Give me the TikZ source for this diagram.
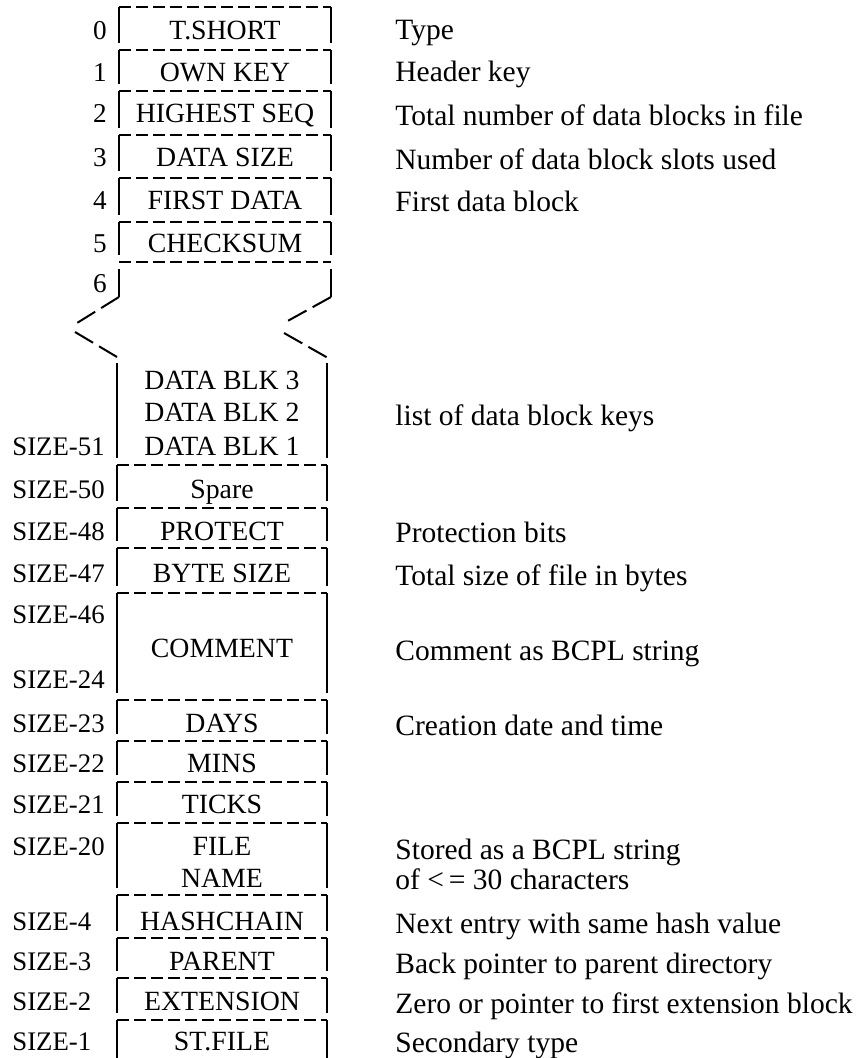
\documentclass[tikz,border=0pt]{standalone}
\usepackage{fontspec}
\setmainfont{Liberation Serif}
\begin{document}
\begin{tikzpicture}[x=0.5pt,y=-0.5pt,
  every node/.style={inner sep=0pt},
  div/.style={line width=1pt, dash pattern=on 6pt off 2.5pt},
  side/.style={line width=1pt},
  zig/.style={line width=1pt, dash pattern=on 10.5pt off 3.5pt},
  cell/.style={anchor=base, font=\fontsize{13.9}{16}\selectfont},
  num/.style={anchor=base east, font=\fontsize{13.6}{16}\selectfont},
  lab/.style={anchor=base west, font=\fontsize{13.4}{16}\selectfont},
  desc/.style={anchor=base west, font=\fontsize{14.75}{16}\selectfont}]
\useasboundingbox (0,0) rectangle (858,1058);

% upper part of the block
\foreach \y in {7,50,91,135,178,222,262}
  \draw[div] (119,\y) -- (331,\y);
\foreach \a/\b in {7/50,50/91,91/135,135/178,178/222,222/262}{
  \draw[side] (119,\a) -- (119,\b-7);
  \draw[side] (331,\a) -- (331,\b-7);
}
\draw[side] (119,269) -- (119,297);
\draw[side] (331,269) -- (331,297);
% break
\draw[zig] (119,297) -- (77,323);
\draw[zig] (75,332) -- (117,357);
\draw[zig] (331,297) -- (284,323);
\draw[zig] (284,333) -- (328,358);

% lower part of the block
\foreach \y in {465,508,548,593,700,741,782,823,895,938,978,1020}
  \draw[div] (117,\y) -- (327,\y);
\foreach \a/\b in {363/465,465/508,508/548,548/593,593/700,700/741,741/782,782/823,823/895,895/938,938/978,978/1020}{
  \draw[side] (117,\a) -- (117,\b-7);
  \draw[side] (327,\a) -- (327,\b-7);
}
\draw[side] (117,1020) -- (117,1058);
\draw[side] (327,1020) -- (327,1058);

% cell contents
\node[cell] (c0) at (225,40) {T.SHORT};
\node[cell] (c1) at (225,82) {OWN KEY};
\node[cell] (c2) at (225,123) {HIGHEST SEQ};
\node[cell] (c3) at (225,167) {DATA SIZE};
\node[cell] (c4) at (225,210) {FIRST DATA};
\node[cell] (c5) at (225,253) {CHECKSUM};
\node[cell] (b3) at (222,390) {DATA BLK 3};
\node[cell] (b2) at (222,422) {DATA BLK 2};
\node[cell] (b1) at (222,455) {DATA BLK 1};
\node[cell] (sp) at (222,498) {Spare};
\node[cell] (pr) at (222,540) {PROTECT};
\node[cell] (bs) at (222,582) {BYTE SIZE};
\node[cell] (cm) at (222,657) {COMMENT};
\node[cell] (dy) at (222,732) {DAYS};
\node[cell] (mn) at (222,772) {MINS};
\node[cell] (tk) at (222,813) {TICKS};
\node[cell] (f1) at (222,855) {FILE};
\node[cell] (f2) at (222,887) {NAME};
\node[cell] (hc) at (222,930) {HASHCHAIN};
\node[cell] (pa) at (222,970) {PARENT};
\node[cell] (ex) at (222,1010) {EXTENSION};
\node[cell] (st) at (222,1050) {ST.FILE};

% offsets
\node[num] (n0) at (107,40) {0};
\node[num] (n1) at (107,82) {1};
\node[num] (n2) at (107,123) {2};
\node[num] (n3) at (107,167) {3};
\node[num] (n4) at (107,210) {4};
\node[num] (n5) at (107,253) {5};
\node[num] (n6) at (107,293) {6};
\node[lab] (s51) at (12,455) {SIZE-51};
\node[lab] (s50) at (12,498) {SIZE-50};
\node[lab] (s48) at (12,540) {SIZE-48};
\node[lab] (s47) at (12,582) {SIZE-47};
\node[lab] (s46) at (12,623) {SIZE-46};
\node[lab] (s24) at (12,688) {SIZE-24};
\node[lab] (s23) at (12,732) {SIZE-23};
\node[lab] (s22) at (12,772) {SIZE-22};
\node[lab] (s21) at (12,813) {SIZE-21};
\node[lab] (s20) at (12,855) {SIZE-20};
\node[lab] (s4) at (12,930) {SIZE-4};
\node[lab] (s3) at (12,970) {SIZE-3};
\node[lab] (s2) at (12,1010) {SIZE-2};
\node[lab] (s1) at (12,1050) {SIZE-1};

% descriptions
\node[desc] (d0) at (395,40) {Type};
\node[desc] (d1) at (395,82) {Header key};
\node[desc] (d2) at (395,126) {Total number of data blocks in file};
\node[desc] (d3) at (395,170) {Number of data block slots used};
\node[desc] (d4) at (395,212) {First data block};
\node[desc] (db) at (395,425) {list of data block keys};
\node[desc] (dp) at (395,542) {Protection bits};
\node[desc] (dbs) at (395,585) {Total size of file in bytes};
\node[desc] (dc) at (395,660) {Comment as BCPL string};
\node[desc] (dd) at (395,735) {Creation date and time};
\node[desc] (df1) at (395,859) {Stored as a BCPL string};
\node[desc] (df2) at (395,889) {of <\,= 30 characters};
\node[desc] (dh) at (395,933) {Next entry with same hash value};
\node[desc] (dpa) at (395,973) {Back pointer to parent directory};
\node[desc] (de) at (395,1013) {Zero or pointer to first extension block};
\node[desc] (ds) at (395,1052) {Secondary type};
\end{tikzpicture}
\end{document}
